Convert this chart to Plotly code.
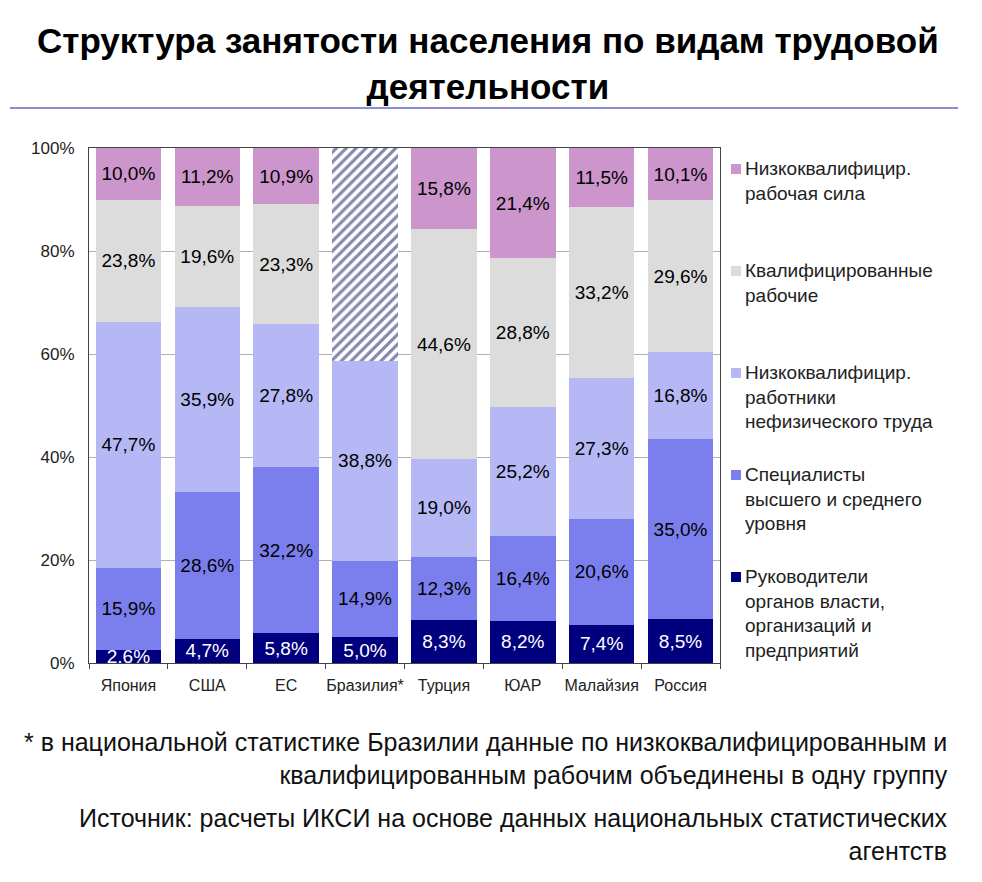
import plotly.graph_objects as go

countries = ["Япония", "США", "ЕС", "Бразилия*", "Турция", "ЮАР", "Малайзия", "Россия"]

managers = [2.6, 4.7, 5.8, 5.0, 8.3, 8.2, 7.4, 8.5]
specialists = [15.9, 28.6, 32.2, 14.9, 12.3, 16.4, 20.6, 35.0]
clerks = [47.7, 35.9, 27.8, 38.8, 19.0, 25.2, 27.3, 16.8]
skilled = [23.8, 19.6, 23.3, None, 44.6, 28.8, 33.2, 29.6]
unskilled = [10.0, 11.2, 10.9, None, 15.8, 21.4, 11.5, 10.1]
brazil_combined = [None, None, None, 41.3, None, None, None, None]

series_names = [
    "Руководители<br>органов власти,<br>организаций и<br>предприятий",
    "Специалисты<br>высшего и среднего<br>уровня",
    "Низкоквалифицир.<br>работники<br>нефизического труда",
    "Квалифицированные<br>рабочие",
    "Низкоквалифицир.<br>рабочая сила",
]
colors = ["#00007f", "#7b7fee", "#b6b8f6", "#dcdcdc", "#cc96cc"]
text_colors = ["white", "black", "black", "black", "black"]
y_ticks = [0, 20, 40, 60, 80, 100]

# page body has an 8px default margin; work in page pixels and shift
OFF = 8
W, H = 982 - OFF, 882 - OFF
L, R, T, B = 89 - OFF, 720 - OFF, 148 - OFF, 663 - OFF


def px(x):
    return (x - OFF - L) / (R - L)


def py(y):
    return (B - (y - OFF)) / (B - T)


fig = go.Figure()
for vals, name, col, tc in zip(
    [managers, specialists, clerks, skilled, unskilled], series_names, colors, text_colors
):
    fig.add_trace(go.Bar(
        x=countries, y=vals, name=name,
        marker=dict(color=col, line=dict(width=0)),
        texttemplate="%{y:.1f}%", textposition="inside",
        insidetextanchor="middle", textangle=0,
        textfont=dict(family="Liberation Sans, Arial, sans-serif", size=19, color=tc),
        showlegend=False,
    ))

fig.add_trace(go.Bar(
    x=countries, y=brazil_combined, name="combined",
    marker=dict(color="white", line=dict(width=0),
                pattern=dict(shape="/", fgcolor="#10105e", bgcolor="white", size=7, solidity=0.45)),
    showlegend=False, hoverinfo="skip",
))

annotations = []
shapes = []

# title
annotations.append(dict(
    x=px(488), y=py(64), xref="paper", yref="paper", xanchor="center", yanchor="middle",
    text="<b>Структура занятости населения по видам трудовой<br>деятельности</b>",
    showarrow=False, align="center",
    font=dict(family="Liberation Sans, Arial, sans-serif", size=35, color="black"),
))
shapes.append(dict(type="line", xref="paper", yref="paper",
                   x0=px(10), x1=px(958), y0=py(108), y1=py(108),
                   line=dict(color="#8c8cd0", width=2)))

# legend (top to bottom: reversed order of stacking)
legend_tops = [160, 262, 364, 466, 568]
for i, (name, col) in enumerate(zip(series_names[::-1], colors[::-1])):
    top = legend_tops[i]
    shapes.append(dict(type="rect", xref="paper", yref="paper",
                       x0=px(731), x1=px(741), y0=py(top + 4), y1=py(top + 14),
                       fillcolor=col, line=dict(width=0)))
    annotations.append(dict(
        x=px(743), y=py(top - 4), xref="paper", yref="paper", xanchor="left", yanchor="top",
        text=name, showarrow=False, align="left",
        font=dict(family="Liberation Sans, Arial, sans-serif", size=19, color="#222222"),
    ))

# footnotes
foot_font = dict(family="Liberation Sans, Arial, sans-serif", size=25, color="#111111")
annotations.append(dict(
    x=px(950), y=py(758), xref="paper", yref="paper", xanchor="right", yanchor="middle",
    text="* в национальной статистике Бразилии данные по низкоквалифицированным и<br>квалифицированным рабочим объединены в одну группу",
    showarrow=False, align="right", font=foot_font,
))
annotations.append(dict(
    x=px(950), y=py(834), xref="paper", yref="paper", xanchor="right", yanchor="middle",
    text="Источник: расчеты ИКСИ на основе данных национальных статистических<br>агентств",
    showarrow=False, align="right", font=foot_font,
))

fig.update_layout(
    barmode="stack",
    bargap=0.17,
    width=W, height=H,
    margin=dict(l=L, r=W - R, t=T, b=H - B, pad=0),
    paper_bgcolor="white", plot_bgcolor="white",
    separators=", ",
    uniformtext=dict(minsize=19, mode="show"),
    annotations=annotations,
    shapes=shapes,
    showlegend=False,
    font=dict(family="Liberation Sans, Arial, sans-serif", color="#222222"),
)
fig.update_yaxes(
    range=[0, 100], tickvals=y_ticks, ticktext=[f"{v}%" for v in y_ticks],
    showgrid=True, gridcolor="#b0b0b0", gridwidth=1,
    showline=True, linecolor="#444444", linewidth=1, mirror=True,
    ticks="", tickfont=dict(size=17, color="#222222"), ticklabelstandoff=10,
    zeroline=False,
)
fig.update_xaxes(
    showline=True, linecolor="#444444", linewidth=1, mirror=True,
    ticks="outside", tickson="boundaries", ticklen=5, tickcolor="#444444",
    tickangle=0, tickfont=dict(size=16, color="#222222"), ticklabelstandoff=8,
)

fig.write_html("out.html")
